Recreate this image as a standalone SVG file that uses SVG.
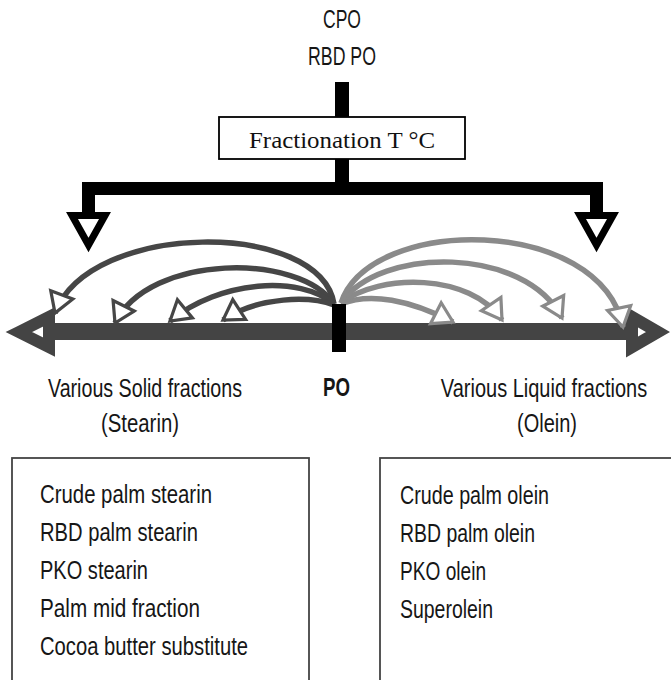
<svg xmlns="http://www.w3.org/2000/svg" width="671" height="680" viewBox="0 0 671 680">
<style>
.t{font-family:"Liberation Sans Narrow","Liberation Sans",Arial,sans-serif;font-size:25px;fill:#161616}
.b{font-weight:bold}
.ser{font-family:"Liberation Serif","Times New Roman",serif;font-size:23px;fill:#111}
.blk{fill:none;stroke:#000;stroke-linejoin:miter}
.dk{fill:none;stroke:#464646;stroke-width:5.5}
.lt{fill:none;stroke:#8a8a8a;stroke-width:5.5}
.box{fill:none;stroke:#444;stroke-width:1.8}
</style>
<defs>
<marker id="mdk" markerUnits="userSpaceOnUse" markerWidth="30" markerHeight="30" viewBox="-3 -14 26 28" refX="18" refY="0" orient="auto">
<path d="M0,-11 L18,0 L0,11 Z" fill="#fff" stroke="#464646" stroke-width="3" stroke-linejoin="miter"/>
</marker>
<marker id="mlt" markerUnits="userSpaceOnUse" markerWidth="30" markerHeight="30" viewBox="-3 -14 26 28" refX="18" refY="0" orient="auto">
<path d="M0,-11 L18,0 L0,11 Z" fill="#fff" stroke="#8a8a8a" stroke-width="3" stroke-linejoin="miter"/>
</marker>
</defs>
<rect width="671" height="680" fill="#fff"/>

<g id="source">
<text class="t" x="342" y="28" text-anchor="middle" textLength="38" lengthAdjust="spacingAndGlyphs">CPO</text>
<text class="t" x="342" y="65" text-anchor="middle" textLength="68" lengthAdjust="spacingAndGlyphs">RBD PO</text>
</g>

<g id="fractionation">
<rect x="219" y="117" width="246" height="42" fill="#fff" stroke="#000" stroke-width="1.8"/>
<text class="ser" x="249" y="148" textLength="186" lengthAdjust="spacingAndGlyphs">Fractionation T °C</text>
</g>

<g id="connectors">
<path class="blk" stroke-width="14" d="M342,82 L342,117 M342,159 L342,189"/>
<path class="blk" stroke-width="13" d="M88.5,212 L88.5,188.5 L596.5,188.5 L596.5,212"/>
<polygon points="72,215.5 105,215.5 88.5,245" fill="#fff" stroke="#000" stroke-width="7" stroke-linejoin="miter"/>
<polygon points="580,215.5 613,215.5 596.5,245" fill="#fff" stroke="#000" stroke-width="7" stroke-linejoin="miter"/>

<path d="M49,331.5 L632,331.5" stroke="#444" stroke-width="17" fill="none"/>
<polygon points="19,332 49,317 49,347" fill="#fff" stroke="#444" stroke-width="12" stroke-linejoin="miter"/>
<polygon points="658,332 632,317 632,347" fill="#fff" stroke="#444" stroke-width="12" stroke-linejoin="miter"/>

<path class="dk" marker-end="url(#mdk)" d="M334,304 C320,220 90,220 55,313"/>
<path class="dk" marker-end="url(#mdk)" d="M334,304 C300,253 150,253 115,323"/>
<path class="dk" marker-end="url(#mdk)" d="M334,304 C300,275 220,280 170,321"/>
<path class="dk" marker-end="url(#mdk)" d="M334,305 C310,296 260,296 223,320"/>

<path class="lt" marker-end="url(#mlt)" d="M341,304 C370,292 410,300 453,322"/>
<path class="lt" marker-end="url(#mlt)" d="M341,303 C380,273 470,273 502,320"/>
<path class="lt" marker-end="url(#mlt)" d="M341,303 C380,246 525,246 562,318"/>
<path class="lt" marker-end="url(#mlt)" d="M341,303 C370,215 600,215 623,327"/>

<rect x="332" y="304" width="14" height="48" fill="#000"/>
</g>

<g id="po">
<text class="t b" x="336.5" y="396" text-anchor="middle" textLength="27" lengthAdjust="spacingAndGlyphs">PO</text>
</g>

<g id="solid">
<text class="t" x="145" y="397" text-anchor="middle" textLength="194" lengthAdjust="spacingAndGlyphs">Various Solid fractions</text>
<text class="t" x="140" y="432" text-anchor="middle" textLength="78" lengthAdjust="spacingAndGlyphs">(Stearin)</text>
</g>

<g id="liquid">
<text class="t" text-anchor="middle" transform="translate(544,397) scale(0.8,1)">Various Liquid fractions</text>
<text class="t" x="547" y="432" text-anchor="middle" textLength="60" lengthAdjust="spacingAndGlyphs">(Olein)</text>
</g>

<g id="stearin-list">
<rect class="box" x="12" y="458" width="297" height="240"/>
<text class="t" x="40" y="503" textLength="172" lengthAdjust="spacingAndGlyphs">Crude palm stearin</text>
<text class="t" x="40" y="541" textLength="158" lengthAdjust="spacingAndGlyphs">RBD palm stearin</text>
<text class="t" x="40" y="579" textLength="108" lengthAdjust="spacingAndGlyphs">PKO stearin</text>
<text class="t" x="40" y="617" textLength="160" lengthAdjust="spacingAndGlyphs">Palm mid fraction</text>
<text class="t" x="40" y="655" textLength="208" lengthAdjust="spacingAndGlyphs">Cocoa butter substitute</text>
</g>

<g id="olein-list">
<rect class="box" x="380" y="458" width="320" height="240"/>
<text class="t" x="400" y="504" textLength="149" lengthAdjust="spacingAndGlyphs">Crude palm olein</text>
<text class="t" x="400" y="542" textLength="135" lengthAdjust="spacingAndGlyphs">RBD palm olein</text>
<text class="t" x="400" y="580" textLength="86" lengthAdjust="spacingAndGlyphs">PKO olein</text>
<text class="t" x="400" y="618" textLength="93" lengthAdjust="spacingAndGlyphs">Superolein</text>
</g>
</svg>
